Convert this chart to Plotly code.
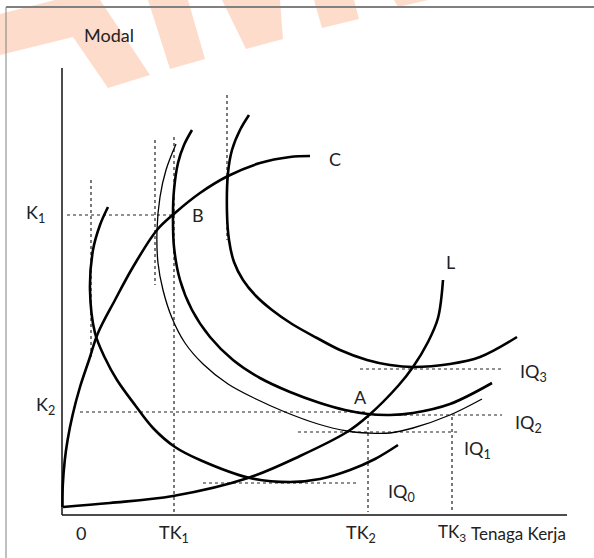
import plotly.graph_objects as go

# ---- data (labour on x, capital on y) ----
oc_x = [0.5, 0.8, 2.8, 5.6, 10.6, 18, 27, 36, 53, 71, 95, 113, 138, 166, 198, 228, 248]
oc_y = [8, 30, 55, 75, 100, 128, 155, 182, 215, 248, 285, 302, 322, 339, 352, 358, 359]

ol_x = [1, 48, 111, 186, 238, 285, 306, 336, 351, 366, 376, 381]
ol_y = [8, 12, 19, 37, 59, 83, 99, 129, 148, 173, 197, 235]

iq0_x = [46, 38, 31, 28, 33, 43, 55, 73, 91, 113, 138, 188, 228, 258, 288, 313, 336]
iq0_y = [308, 290, 265, 225, 182, 157, 135, 110, 87, 68, 55, 37, 33, 36, 45, 56, 70]

iq1_x = [114, 104, 98, 95, 96, 101, 110, 123, 141, 166, 194, 223, 256, 285, 306, 328, 351, 388, 420]
iq1_y = [371, 345, 318, 285, 252, 225, 197, 172, 151, 131, 116, 103, 91, 84, 82, 82, 87, 100, 116]

iq2_x = [130, 122, 116, 112, 111, 112, 118, 130, 148, 171, 198, 228, 258, 283, 306, 328, 351, 388, 430]
iq2_y = [385, 370, 352, 325, 302, 268, 235, 205, 178, 155, 137, 123, 112, 105, 101, 100, 102, 111, 132]

iq3_x = [187, 178, 170, 166, 165, 167, 172, 181, 194, 210, 230, 255, 278, 305, 328, 351, 388, 418, 455]
iq3_y = [400, 385, 365, 342, 302, 275, 253, 235, 219, 205, 191, 177, 165, 155, 150, 148, 151, 158, 178]

k_levels = {"K1": 300, "K2": 102}
tk_levels = {"TK1": 112, "TK2": 306, "TK3": 390}
iq_levels = {"IQ3": 146, "IQ1": 83, "IQ0": 32}

fig = go.Figure()

# ---- watermark ----
wm_polys = [
    ([-62, -7, 38, 88, 46, 11, -62], [501, 515, 515, 440, 427, 478, 460]),
    ([86, 108, 143, 126], [515, 446, 456, 515]),
    ([160, 184, 221, 218], [515, 466, 476, 515]),
    ([252, 260, 297, 292], [515, 487, 496, 515]),
    ([332, 336, 366], [515, 508, 515]),
]
for px, py in wm_polys:
    fig.add_trace(go.Scatter(x=px, y=py, fill="toself", fillcolor="#FDDCCB",
                             line=dict(width=0), mode="lines", hoverinfo="skip"))

DOT = dict(color="#222", width=1.2, dash="dot")
def seg(x, y, line):
    fig.add_trace(go.Scatter(x=x, y=y, mode="lines", line=line, hoverinfo="skip"))

# ---- dotted guide lines ----
seg([5, tk_levels["TK1"] + 1], [k_levels["K1"]] * 2, DOT)
seg([18, tk_levels["TK2"]], [k_levels["K2"] + 1] * 2, DOT)
seg([tk_levels["TK2"], 440], [k_levels["K2"] - 2] * 2, DOT)
seg([298, 440], [iq_levels["IQ3"]] * 2, DOT)
seg([236, 398], [iq_levels["IQ1"]] * 2, DOT)
seg([141, 296], [iq_levels["IQ0"]] * 2, DOT)
seg([tk_levels["TK1"]] * 2, [378, 3], DOT)
seg([tk_levels["TK2"]] * 2, [100, 3], DOT)
seg([tk_levels["TK3"]] * 2, [98, 3], DOT)
seg([29, 29], [335, 155], DOT)
seg([93, 93], [375, 230], DOT)
seg([165, 165], [420, 275], DOT)

# ---- axes ----
AX = dict(color="#111", width=1.5)
seg([0, 0], [0, 447], AX)
seg([0, 505], [0, 0], AX)

# ---- curves ----
THICK = dict(color="#000", width=2.6, shape="spline", smoothing=1.0)
THIN = dict(color="#000", width=1.3, shape="spline", smoothing=1.0)
seg(oc_x, oc_y, THICK)
seg(ol_x, ol_y, THICK)
seg(iq0_x, iq0_y, THICK)
seg(iq1_x, iq1_y, THIN)
seg(iq2_x, iq2_y, THICK)
seg(iq3_x, iq3_y, THICK)

# ---- frame ----
seg([-56, 532], [508, 508], dict(color="#808080", width=2))
seg([-56, -56], [508, -43], dict(color="#808080", width=1))

FONT = dict(family="Lato, Carlito, Open Sans, sans-serif", size=18, color="#222")
def label(x, y, text, anchor="center", size=18):
    f = dict(FONT); f["size"] = size
    fig.add_annotation(x=x, y=y, text=text, showarrow=False, xanchor=anchor,
                       yanchor="middle", font=f)

label(47, 480, "Modal")
label(-27, 302, "K<sub>1</sub>")
label(-17, 110, "K<sub>2</sub>")
label(19, -18, "0")
label(112, -18, "TK<sub>1</sub>")
label(299, -18, "TK<sub>2</sub>")
label(390, -18, "TK<sub>3</sub>", size=17)
label(407, -18, "Tenaga Kerja", anchor="left", size=17)
label(136, 300, "B")
label(273, 356, "C")
label(388, 253, "L")
label(298, 118, "A")
label(456, 143, "IQ<sub>3</sub>", anchor="left")
label(451, 92, "IQ<sub>2</sub>", anchor="left")
label(400, 66, "IQ<sub>1</sub>", anchor="left")
label(324, 23, "IQ<sub>0</sub>", anchor="left")

fig.update_layout(
    width=594, height=558, margin=dict(l=0, r=0, t=0, b=0),
    paper_bgcolor="white", plot_bgcolor="white", showlegend=False,
    xaxis=dict(range=[-62, 532], visible=False, fixedrange=True),
    yaxis=dict(range=[-43, 515], visible=False, fixedrange=True),
)
fig.write_html(
    "out.html",
    config={"displayModeBar": False},
    post_script="document.body.style.margin='0';document.body.style.overflow='hidden';",
)
